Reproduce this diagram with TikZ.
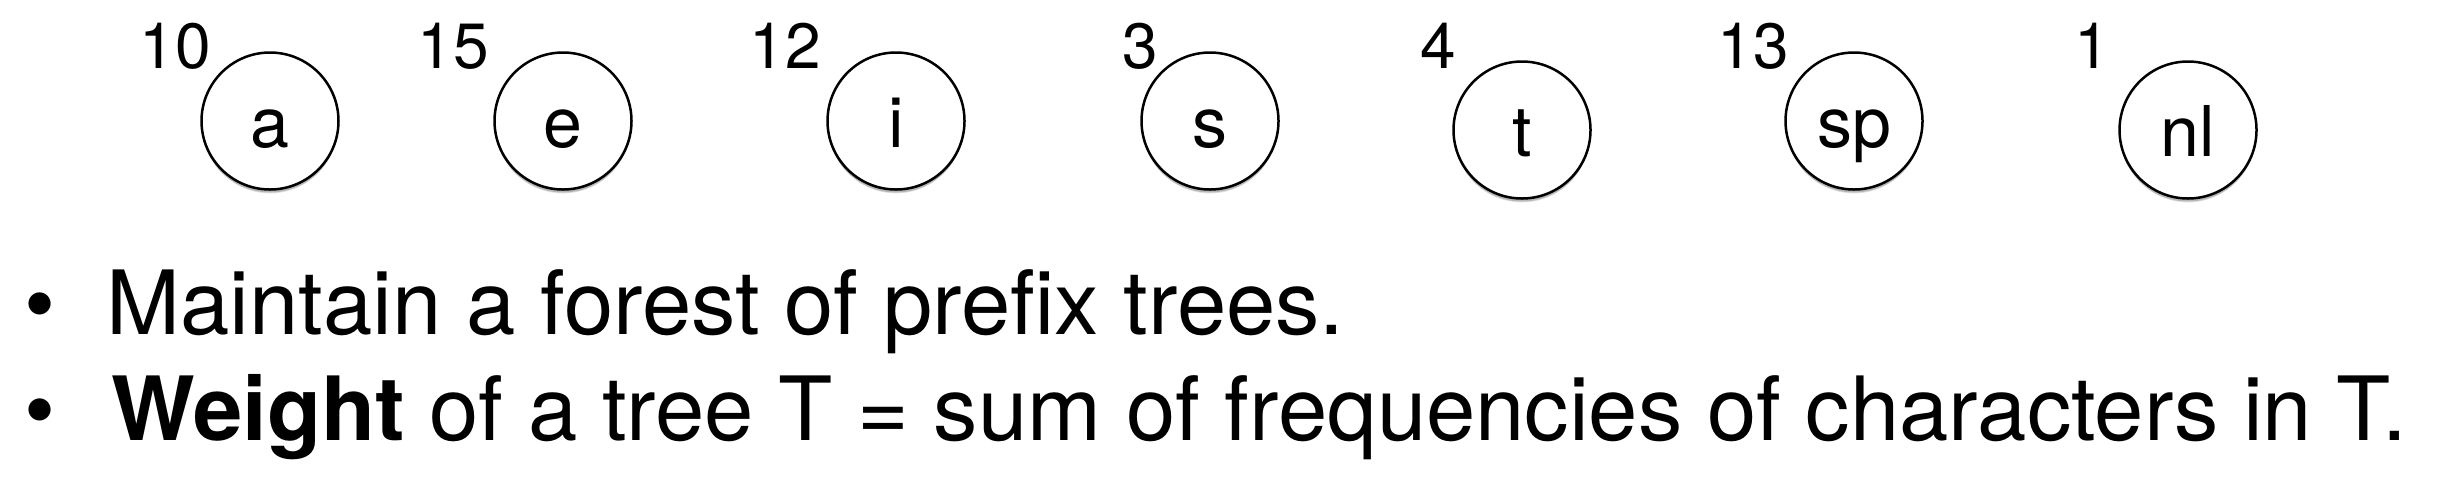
\documentclass[tikz,border=0pt]{standalone}
\usepackage{fontspec}
\setmainfont{TeX Gyre Heros}
\usetikzlibrary{shadows}
\begin{document}
\begin{tikzpicture}[x=0.3pt,y=-0.3pt,
  sym/.style={circle,draw=black,line width=0.75pt,fill=white,minimum size=41.1pt,inner sep=0pt,
    font=\fontsize{21}{21}\selectfont,text height=15.6pt,text depth=0pt,
    drop shadow={shadow xshift=0pt,shadow yshift=-1.6pt,shadow scale=0.98,opacity=0.12,fill=black},
    drop shadow={shadow xshift=0pt,shadow yshift=-0.9pt,opacity=0.18,fill=black}},
  freq/.style={anchor=base west,inner sep=0pt,font=\fontsize{19.2}{19.2}\selectfont},
  body/.style={anchor=base west,inner sep=0pt,font=\fontsize{26.6}{26.6}\selectfont}]
\useasboundingbox (0,0) rectangle (2440,494);
\fill[white] (0,0) rectangle (2440,494);
% character nodes
\node[sym] (a)  at (270,121)  {a};
\node[sym] (e)  at (563,121)  {e};
\node[sym] (i)  at (896,121)  {i};
\node[sym] (s)  at (1210,121) {s};
\node[sym] (t)  at (1522,130) {t};
\node[sym] (sp) at (1854,121) {sp};
\node[sym] (nl) at (2188,130) {nl};
% frequencies
\node[freq] (fa)  at (139,68)  {10};
\node[freq] (fe)  at (417,68)  {15};
\node[freq] (fi)  at (749,68)  {12};
\node[freq] (fs)  at (1122,68) {3};
\node[freq] (ft)  at (1420,68) {4};
\node[freq] (fsp) at (1717,68) {13};
\node[freq] (fnl) at (2074,68) {1};
% bullets
\node[body] (b1) at (24,334) {•};
\node[body] (l1) at (106,334) {Maintain a forest of prefix trees.};
\node[body] (b2) at (24,440) {•};
\node[body] (l2) at (111,440) {\textbf{Weight} of a tree T = sum of frequencies of characters in T.};
\end{tikzpicture}
\end{document}
